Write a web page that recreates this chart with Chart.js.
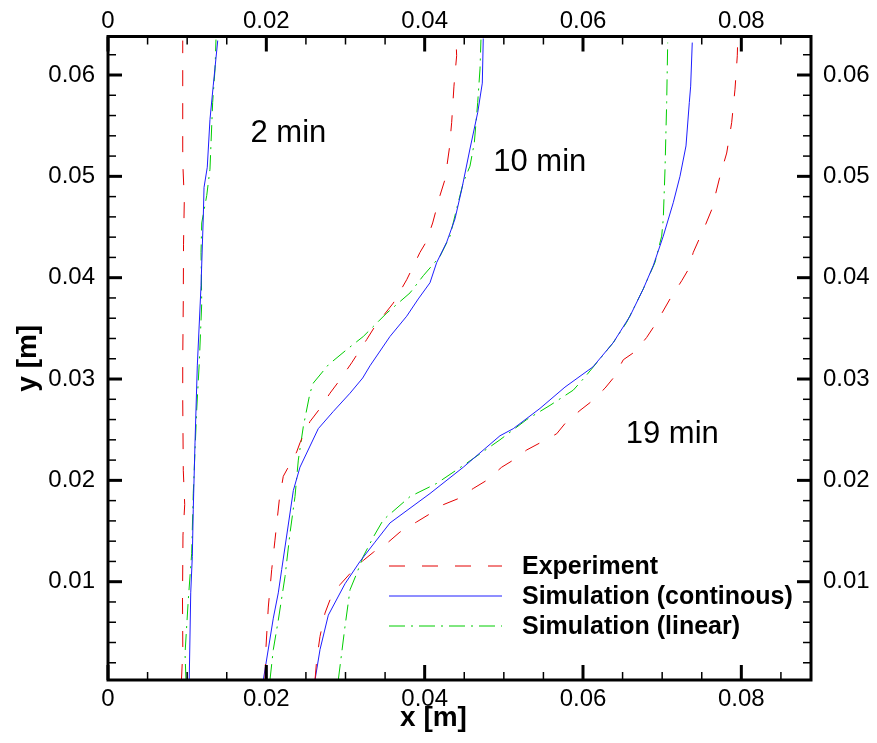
<!DOCTYPE html>
<html lang="en">
<head>
<meta charset="UTF-8">
<title>Front position</title>
<script src="https://cdn.jsdelivr.net/npm/chart.js"></script>
<style>
    body { margin: 0; background: #fff; }
    #wrap { width: 877px; height: 743px; }
</style>
</head>
<body>
<div id="wrap"><canvas id="chart"></canvas></div>
<script>
// axis ticks
const xTicks = [0, 0.02, 0.04, 0.06, 0.08];
const xTickLabels = ['0', '0.02', '0.04', '0.06', '0.08'];
const yTicks = [0.01, 0.02, 0.03, 0.04, 0.05, 0.06];
const yTickLabels = ['0.01', '0.02', '0.03', '0.04', '0.05', '0.06'];

// experiment (red dashed), [x, y] in m
const exp2 = [[0.00928,0.0003],[0.00945,0.0032],[0.00941,0.0082],[0.00947,0.0146],[0.00969,0.0176],[0.00951,0.0210],
    [0.00944,0.0279],[0.00944,0.0319],[0.00951,0.0377],[0.00954,0.0433],[0.00964,0.0477],[0.00947,0.0509],
    [0.00944,0.0527],[0.00944,0.0634]];
const exp10 = [[0.01983,0.0003],[0.01996,0.0036],[0.02025,0.0075],[0.02068,0.0112],[0.02109,0.0141],[0.02164,0.0181],
    [0.02214,0.0204],[0.02277,0.0213],[0.02383,0.0228],[0.02425,0.0237],[0.02551,0.0258],[0.02678,0.0271],
    [0.02804,0.0286],[0.02909,0.0297],[0.03078,0.0316],[0.03268,0.0339],[0.03372,0.0352],[0.03604,0.0375],
    [0.03773,0.0398],[0.03941,0.0425],[0.04017,0.0435],[0.04101,0.0454],[0.04193,0.0481],[0.04257,0.0497],
    [0.04311,0.0527],[0.04341,0.0553],[0.0437,0.0589],[0.04404,0.0619],[0.04396,0.0635]];
const exp19 = [[0.02615,0.0003],[0.02636,0.0023],[0.02678,0.0046],[0.02741,0.0069],[0.02804,0.0082],[0.0293,0.0097],
    [0.03057,0.0108],[0.03225,0.0121],[0.03351,0.0129],[0.0354,0.0139],[0.03688,0.0149],[0.03899,0.0159],
    [0.04046,0.0166],[0.04235,0.0176],[0.04425,0.0182],[0.04614,0.0192],[0.04783,0.0200],[0.04973,0.0213],
    [0.05119,0.0220],[0.05289,0.0230],[0.05457,0.0237],[0.05668,0.0246],[0.05772,0.0256],[0.05962,0.0269],
    [0.0611,0.0278],[0.06278,0.0291],[0.06383,0.0301],[0.06509,0.0319],[0.06657,0.0327],[0.06804,0.0341],
    [0.06931,0.0356],[0.07099,0.0379],[0.07247,0.0397],[0.0733,0.0408],[0.07393,0.0425],[0.07541,0.0451],
    [0.07625,0.0467],[0.0773,0.0500],[0.07815,0.0523],[0.07878,0.0553],[0.0792,0.0586],[0.07949,0.0619],
    [0.07954,0.0634]];

// simulation, continuous (blue solid)
const cont2 = [[0.01026,0.0003],[0.01045,0.0089],[0.01065,0.0125],[0.01077,0.0171],[0.01099,0.0237],[0.01128,0.0313],
    [0.01175,0.0392],[0.01204,0.0461],[0.01213,0.0489],[0.01254,0.0509],[0.01288,0.0556],[0.0133,0.0590],
    [0.01386,0.0634]];
const cont10 = [[0.01962,0.0003],[0.02088,0.0064],[0.02151,0.0089],[0.02194,0.0112],[0.02341,0.0190],[0.02425,0.0213],
    [0.02656,0.0251],[0.02846,0.0268],[0.03057,0.0286],[0.03217,0.0301],[0.03309,0.0313],[0.03562,0.0342],
    [0.03773,0.0362],[0.03919,0.0379],[0.04067,0.0395],[0.04152,0.0415],[0.04278,0.0435],[0.04383,0.0458],
    [0.04468,0.0487],[0.04572,0.0527],[0.0467,0.0563],[0.04728,0.0592],[0.0474,0.0636]];
const cont19 = [[0.02615,0.0003],[0.02678,0.0033],[0.02783,0.0067],[0.02994,0.0098],[0.03183,0.0120],[0.03372,0.0139],
    [0.03562,0.0158],[0.04067,0.0187],[0.04488,0.0213],[0.04951,0.0244],[0.05119,0.0251],[0.05457,0.0271],
    [0.05772,0.0292],[0.06126,0.0312],[0.06383,0.0336],[0.06593,0.0362],[0.06762,0.0389],[0.06888,0.0412],
    [0.07014,0.0441],[0.0714,0.0474],[0.07225,0.0500],[0.07301,0.0530],[0.07343,0.0573],[0.0736,0.0589],
    [0.0738,0.0632]];

// simulation, linear (green dash-dot)
const lin2 = [[0.00985,0.0003],[0.00973,0.0029],[0.01014,0.0082],[0.01057,0.0128],[0.01077,0.0187],[0.0112,0.0269],
    [0.01153,0.0316],[0.01184,0.0375],[0.01175,0.0425],[0.01184,0.0454],[0.01247,0.0481],[0.01288,0.0507],
    [0.01322,0.0573],[0.01352,0.0606],[0.01364,0.0635]];
const lin10 = [[0.02046,0.0003],[0.02088,0.0033],[0.02151,0.0062],[0.02236,0.0105],[0.02299,0.0148],[0.02362,0.0184],
    [0.02404,0.0220],[0.02467,0.0253],[0.02551,0.0286],[0.02593,0.0296],[0.02783,0.0314],[0.03015,0.0329],
    [0.03225,0.0342],[0.0352,0.0365],[0.03815,0.0385],[0.03983,0.0402],[0.04193,0.0421],[0.0432,0.0441],
    [0.04404,0.0468],[0.04488,0.0494],[0.04572,0.0510],[0.04627,0.0533],[0.0467,0.0573],[0.04699,0.0606],
    [0.04711,0.0635]];
const lin19 = [[0.02909,0.0003],[0.02994,0.0056],[0.03057,0.0092],[0.03141,0.0108],[0.03225,0.0125],[0.03351,0.0144],
    [0.03477,0.0161],[0.03815,0.0184],[0.04152,0.0197],[0.04531,0.0217],[0.04951,0.0240],[0.05289,0.0260],
    [0.05583,0.0274],[0.05877,0.0289],[0.06025,0.0302],[0.06173,0.0316],[0.06383,0.0336],[0.06552,0.0356],
    [0.06762,0.0389],[0.06909,0.0415],[0.06994,0.0441],[0.07014,0.0458],[0.07036,0.0507],[0.07057,0.0573],
    [0.0707,0.0632]];

const seriesNames = ['Experiment', 'Simulation (continous)', 'Simulation (linear)'];
const timeLabels = ['2 min', '10 min', '19 min'];

const XMIN = 0, XMAX = 0.0888, YMIN = 0.0003, YMAX = 0.0638;
const FONT = "'Liberation Sans', Arial, Helvetica, sans-serif";

const styles = [
    { color: 'rgb(228,0,0)', dash: [16, 17] },
    { color: 'rgb(30,30,255)', dash: [] },
    { color: 'rgb(0,205,0)', dash: [16, 6, 2, 6] }
];

function pts(arr) { return arr.map(p => ({ x: p[0], y: p[1] })); }

const groups = [[exp2, exp10, exp19], [cont2, cont10, cont19], [lin2, lin10, lin19]];
const datasets = [];
groups.forEach((g, k) => {
    g.forEach(arr => {
        datasets.push({
            label: seriesNames[k],
            data: pts(arr),
            showLine: true,
            borderColor: styles[k].color,
            borderDash: styles[k].dash,
            borderWidth: 1,
            pointRadius: 0,
            tension: 0,
            fill: false
        });
    });
});

// text labels placed in data units: [x at left edge of text, y at middle]
const notePos = [[0.01800, 0.0542], [0.04866, 0.0514], [0.06540, 0.0245]];

const framePlugin = {
    id: 'frame',
    afterDatasetsDraw(chart) {
        const { ctx, chartArea: a, scales } = chart;
        const x = scales.x, y = scales.y;
        ctx.save();
        ctx.strokeStyle = '#000';
        const seg = (x1, y1, x2, y2) => { ctx.beginPath(); ctx.moveTo(x1, y1); ctx.lineTo(x2, y2); ctx.stroke(); };

        // minor ticks
        ctx.lineWidth = 1.5;
        for (let i = 1; i * 0.005 < XMAX; i++) {
            if (i % 4 === 0) continue;
            const px = x.getPixelForValue(i * 0.005);
            seg(px, a.bottom, px, a.bottom - 8);
            seg(px, a.top, px, a.top + 8);
        }
        for (let i = 1; i * 0.002 < YMAX; i++) {
            if (i % 5 === 0) continue;
            const py = y.getPixelForValue(i * 0.002);
            if (py > a.bottom) continue;
            seg(a.left, py, a.left + 8, py);
            seg(a.right, py, a.right - 8, py);
        }
        // major ticks
        ctx.lineWidth = 3;
        xTicks.forEach(v => {
            const px = x.getPixelForValue(v);
            seg(px, a.bottom, px, a.bottom - 15);
            seg(px, a.top, px, a.top + 15);
        });
        yTicks.forEach(v => {
            const py = y.getPixelForValue(v);
            seg(a.left, py, a.left + 14, py);
            seg(a.right, py, a.right - 14, py);
        });
        // frame
        ctx.lineWidth = 3;
        ctx.strokeRect(a.left, a.top, a.right - a.left, a.bottom - a.top);

        ctx.fillStyle = '#000';
        ctx.textBaseline = 'middle';

        // x axis title (sits left of centre in the original)
        ctx.font = 'bold 28px ' + FONT;
        ctx.textAlign = 'center';
        ctx.fillText('x [m]', (a.left + a.right) / 2 - 26, a.bottom + 38);

        // time labels
        ctx.font = '31px ' + FONT;
        ctx.textAlign = 'left';
        timeLabels.forEach((t, i) => {
            ctx.fillText(t, x.getPixelForValue(notePos[i][0]), y.getPixelForValue(notePos[i][1]));
        });

        // legend
        const lx = a.right - 422, ly = a.bottom - 114, gap = 30;
        ctx.font = 'bold 25px ' + FONT;
        seriesNames.forEach((n, k) => {
            const yy = ly + k * gap;
            ctx.save();
            ctx.strokeStyle = styles[k].color;
            ctx.lineWidth = 1;
            ctx.setLineDash(styles[k].dash);
            seg(lx, yy, lx + 113, yy);
            ctx.restore();
            ctx.fillText(n, lx + 133, yy + 1);
        });
        ctx.restore();
    }
};

function axis(pos) {
    const horiz = pos === 'bottom' || pos === 'top';
    const vals = horiz ? xTicks : yTicks;
    const labs = horiz ? xTickLabels : yTickLabels;
    const pad = { bottom: 5, top: 1, left: 13, right: 12 }[pos];
    return {
        type: 'linear',
        position: pos,
        min: horiz ? XMIN : YMIN,
        max: horiz ? XMAX : YMAX,
        grid: { display: false, drawTicks: false },
        border: { display: false },
        afterBuildTicks: s => { s.ticks = vals.map(v => ({ value: v })); },
        afterFit: s => {
            if (pos === 'bottom') s.height = 63;
            if (pos === 'top') s.height = 36.5;
            if (pos === 'left') s.width = 108;
            if (pos === 'right') s.width = 66;
        },
        ticks: {
            callback: v => labs[vals.indexOf(v)],
            padding: pad,
            color: '#000',
            maxRotation: 0,
            autoSkip: false,
            font: { size: 24, family: FONT }
        },
        title: {
            display: pos === 'left',
            text: 'y [m]',
            color: '#000',
            font: { size: 28, weight: 'bold', family: FONT },
            padding: { top: 11, bottom: 0 }
        }
    };
}

new Chart(document.getElementById('chart'), {
    type: 'scatter',
    data: { datasets: datasets },
    options: {
        responsive: true,
        maintainAspectRatio: false,
        animation: false,
        layout: { padding: 0 },
        plugins: { legend: { display: false }, tooltip: { enabled: false } },
        scales: {
            x: axis('bottom'),
            x2: axis('top'),
            y: axis('left'),
            y2: axis('right')
        }
    },
    plugins: [framePlugin]
});
</script>
</body>
</html>
